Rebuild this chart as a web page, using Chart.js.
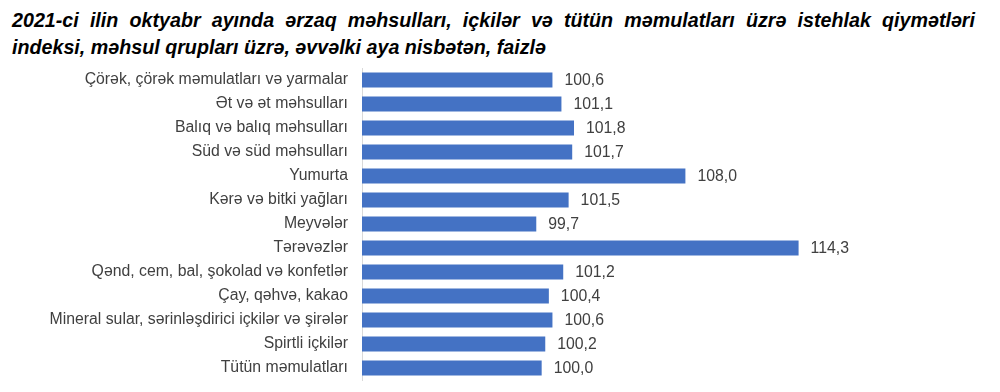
<!DOCTYPE html>
<html>
<head>
<meta charset="utf-8">
<script src="https://cdn.jsdelivr.net/npm/chart.js@4/dist/chart.umd.min.js"></script>
<style>
  html, body { margin: 0; padding: 0; background: #fff; }
  #wrap { position: relative; width: 1000px; height: 392px; }
  #title {
    position: absolute; left: 12px; top: 7px; width: 963px;
    font: italic bold 19.7px "Liberation Sans", Arial, sans-serif;
    line-height: 27px; color: #000;
    text-align: justify; text-align-last: left;
  }
  canvas { position: absolute; left: 0; top: 0; }
</style>
</head>
<body>
<div id="wrap">
  <div id="title">2021-ci ilin oktyabr ayında ərzaq məhsulları, içkilər və tütün məmulatları üzrə istehlak qiymətləri indeksi, məhsul qrupları üzrə, əvvəlki aya nisbətən, faizlə</div>
  <canvas id="chart" width="1000" height="392"></canvas>
</div>
<script>
// categories and values (previous month = 100)
var categories = [
    'Çörək, çörək məmulatları və yarmalar',
    'Ət və ət məhsulları',
    'Balıq və balıq məhsulları',
    'Süd və süd məhsulları',
    'Yumurta',
    'Kərə və bitki yağları',
    'Meyvələr',
    'Tərəvəzlər',
    'Qənd, cem, bal, şokolad və konfetlər',
    'Çay, qəhvə, kakao',
    'Mineral sular, sərinləşdirici içkilər və şirələr',
    'Spirtli içkilər',
    'Tütün məmulatları'
];
var indexValues = [100.6, 101.1, 101.8, 101.7, 108.0, 101.5, 99.7, 114.3, 101.2, 100.4, 100.6, 100.2, 100.0];

function fmt(v) { return v.toFixed(1).replace('.', ','); }

// value labels at bar ends
var valueLabels = {
    id: 'valueLabels',
    afterDatasetsDraw: function(chart) {
        var ctx = chart.ctx;
        var meta = chart.getDatasetMeta(0);
        ctx.save();
        ctx.font = '15.8px "Liberation Sans", Arial, sans-serif';
        ctx.fillStyle = '#404040';
        ctx.textAlign = 'left';
        ctx.textBaseline = 'middle';
        meta.data.forEach(function(bar, i) {
            ctx.fillText(fmt(indexValues[i]), bar.x + 12, bar.y + 1);
        });
        ctx.restore();
    }
};

new Chart(document.getElementById('chart').getContext('2d'), {
    type: 'bar',
    data: {
        labels: categories,
        datasets: [{
            data: indexValues,
            backgroundColor: '#4472C4',
            borderWidth: 0,
            barPercentage: 0.63,
            categoryPercentage: 1
        }]
    },
    options: {
        indexAxis: 'y',
        responsive: false,
        animation: false,
        layout: { padding: { top: 68, bottom: 12, right: 99, left: 0 } },
        scales: {
            x: { display: false, min: 90, max: 120 },
            y: {
                grid: { display: false, drawTicks: false },
                border: { display: true, color: '#D9D9D9', width: 1 },
                ticks: {
                    color: '#404040',
                    padding: 14,
                    font: { family: '"Liberation Sans", Arial, sans-serif', size: 15.8 }
                },
                afterFit: function(scale) {
                    scale.width = 362;
                    scale.paddingTop = 0;
                    scale.paddingBottom = 0;
                }
            }
        },
        plugins: { legend: { display: false }, tooltip: { enabled: false } }
    },
    plugins: [valueLabels]
});
</script>
</body>
</html>
